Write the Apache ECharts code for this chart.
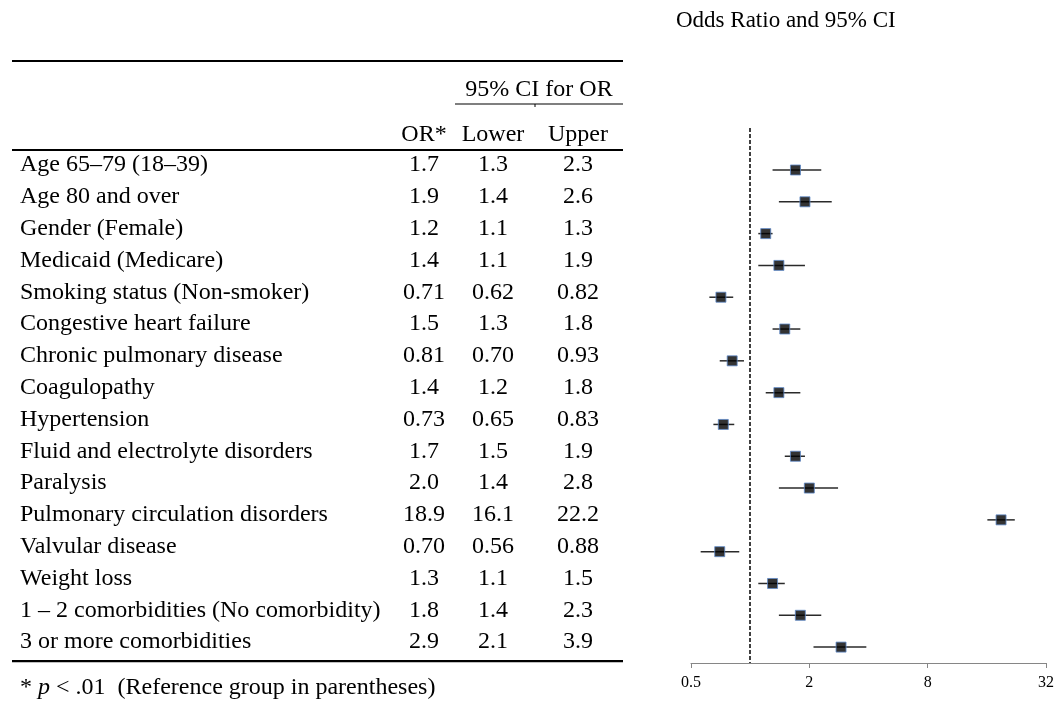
<!DOCTYPE html>
<html>
<head>
<meta charset="utf-8">
<script src="https://cdn.jsdelivr.net/npm/echarts@6/dist/echarts.min.js"></script>
<style>
  html, body { margin: 0; padding: 0; background: #fff; }
  #main { width: 1057px; height: 709px; }
</style>
</head>
<body>
<div id="main"></div>
<script>
// table rows (reference group in parentheses)
var labels = [
  "Age 65–79 (18–39)",
  "Age 80 and over",
  "Gender (Female)",
  "Medicaid (Medicare)",
  "Smoking status (Non-smoker)",
  "Congestive heart failure",
  "Chronic pulmonary disease",
  "Coagulopathy",
  "Hypertension",
  "Fluid and electrolyte disorders",
  "Paralysis",
  "Pulmonary circulation disorders",
  "Valvular disease",
  "Weight loss",
  "1 – 2 comorbidities (No comorbidity)",
  "3 or more comorbidities"
];
var orValues = [1.7, 1.9, 1.2, 1.4, 0.71, 1.5, 0.81, 1.4, 0.73, 1.7, 2.0, 18.9, 0.70, 1.3, 1.8, 2.9];
var lowerValues = [1.3, 1.4, 1.1, 1.1, 0.62, 1.3, 0.70, 1.2, 0.65, 1.5, 1.4, 16.1, 0.56, 1.1, 1.4, 2.1];
var upperValues = [2.3, 2.6, 1.3, 1.9, 0.82, 1.8, 0.93, 1.8, 0.83, 1.9, 2.8, 22.2, 0.88, 1.5, 2.3, 3.9];
var xTicks = [0.5, 2, 8, 32];

var FONT = '"Liberation Serif", "Times New Roman", serif';

function fmt(v) {
  return v < 1 ? v.toFixed(2) : v.toFixed(1);
}

var chart = echarts.init(document.getElementById("main"));

chart.setOption({
  animation: false,
  title: {
    text: "Odds Ratio and 95% CI",
    left: 676,
    top: 9,
    padding: 0,
    textStyle: { fontFamily: FONT, fontSize: 23, fontWeight: "normal", color: "#000" }
  },
  grid: { left: 691, right: 11, top: 128, bottom: 46 },
  xAxis: {
    type: "log",
    logBase: 2,
    min: 0.5,
    max: 32,
    axisLine: { onZero: false, lineStyle: { color: "#868686", width: 1 } },
    axisTick: { show: true, length: 5, customValues: xTicks, lineStyle: { color: "#868686" } },
    axisLabel: {
      customValues: xTicks,
      showMinLabel: true,
      showMaxLabel: true,
      margin: 12,
      fontFamily: FONT,
      fontSize: 16,
      color: "#000"
    },
    splitLine: { show: false }
  },
  yAxis: {
    type: "value",
    inverse: true,
    min: -1.32,
    max: 15.5,
    show: false
  },
  series: [
    {
      type: "custom",
      data: lowerValues.map(function (lo, i) { return [lo, upperValues[i], i]; }),
      encode: { x: [0, 1], y: 2 },
      renderItem: function (params, api) {
        var p1 = api.coord([api.value(0), api.value(2)]);
        var p2 = api.coord([api.value(1), api.value(2)]);
        return {
          type: "line",
          shape: { x1: p1[0], y1: p1[1], x2: p2[0], y2: p2[1] },
          style: { stroke: "#2a2a2a", lineWidth: 1.5 }
        };
      },
      z: 2
    },
    {
      type: "scatter",
      data: orValues.map(function (v, i) { return [v, i]; }),
      symbol: "rect",
      symbolSize: 10,
      itemStyle: { color: "#000", borderColor: "#5f8ac8", borderWidth: 1 },
      z: 3,
      markLine: {
        silent: true,
        symbol: "none",
        label: { show: false },
        lineStyle: { type: [4, 2], color: "#111", width: 1.6 },
        data: [{ xAxis: 1 }]
      }
    }
  ]
});

// table built from the arrays, rows aligned with the plot rows
var colOR = 424, colLower = 493, colUpper = 578, labelX = 20;
var tableLeft = 12, tableRight = 623;
var g = [];
function txt(s, x, y, align) {
  g.push({
    type: "text",
    silent: true,
    style: { text: s, x: x, y: y, align: align, verticalAlign: "middle", font: '24px ' + FONT, fill: "#000" }
  });
}
function hline(x1, x2, y, w) {
  g.push({ type: "line", silent: true, shape: { x1: x1, y1: y, x2: x2, y2: y }, style: { stroke: "#000", lineWidth: w } });
}

hline(tableLeft, tableRight, 61, 2.2);
txt("95% CI for OR", 539, 90, "center");
hline(455, tableRight, 104, 1.2);
g.push({ type: "line", silent: true, shape: { x1: 535, y1: 104, x2: 535, y2: 107 }, style: { stroke: "#000", lineWidth: 1 } });
txt("OR*", colOR, 135, "center");
txt("Lower", colLower, 135, "center");
txt("Upper", colUpper, 135, "center");
hline(tableLeft, tableRight, 150, 2.2);

var lastY = 0;
labels.forEach(function (lab, i) {
  var y = chart.convertToPixel({ gridIndex: 0 }, [1, i])[1] - 5;
  lastY = y;
  txt(lab, labelX, y, "left");
  txt(fmt(orValues[i]), colOR, y, "center");
  txt(fmt(lowerValues[i]), colLower, y, "center");
  txt(fmt(upperValues[i]), colUpper, y, "center");
});
hline(tableLeft, tableRight, lastY + 19, 2.2);

g.push({
  type: "text",
  silent: true,
  style: {
    text: "* {i|p} < .01  (Reference group in parentheses)",
    x: labelX, y: lastY + 46,
    align: "left", verticalAlign: "middle",
    font: '24px ' + FONT, fill: "#000",
    rich: { i: { fontStyle: "italic", fontFamily: FONT, fontSize: 24, fill: "#000" } }
  }
});

chart.setOption({ graphic: g });
</script>
</body>
</html>
